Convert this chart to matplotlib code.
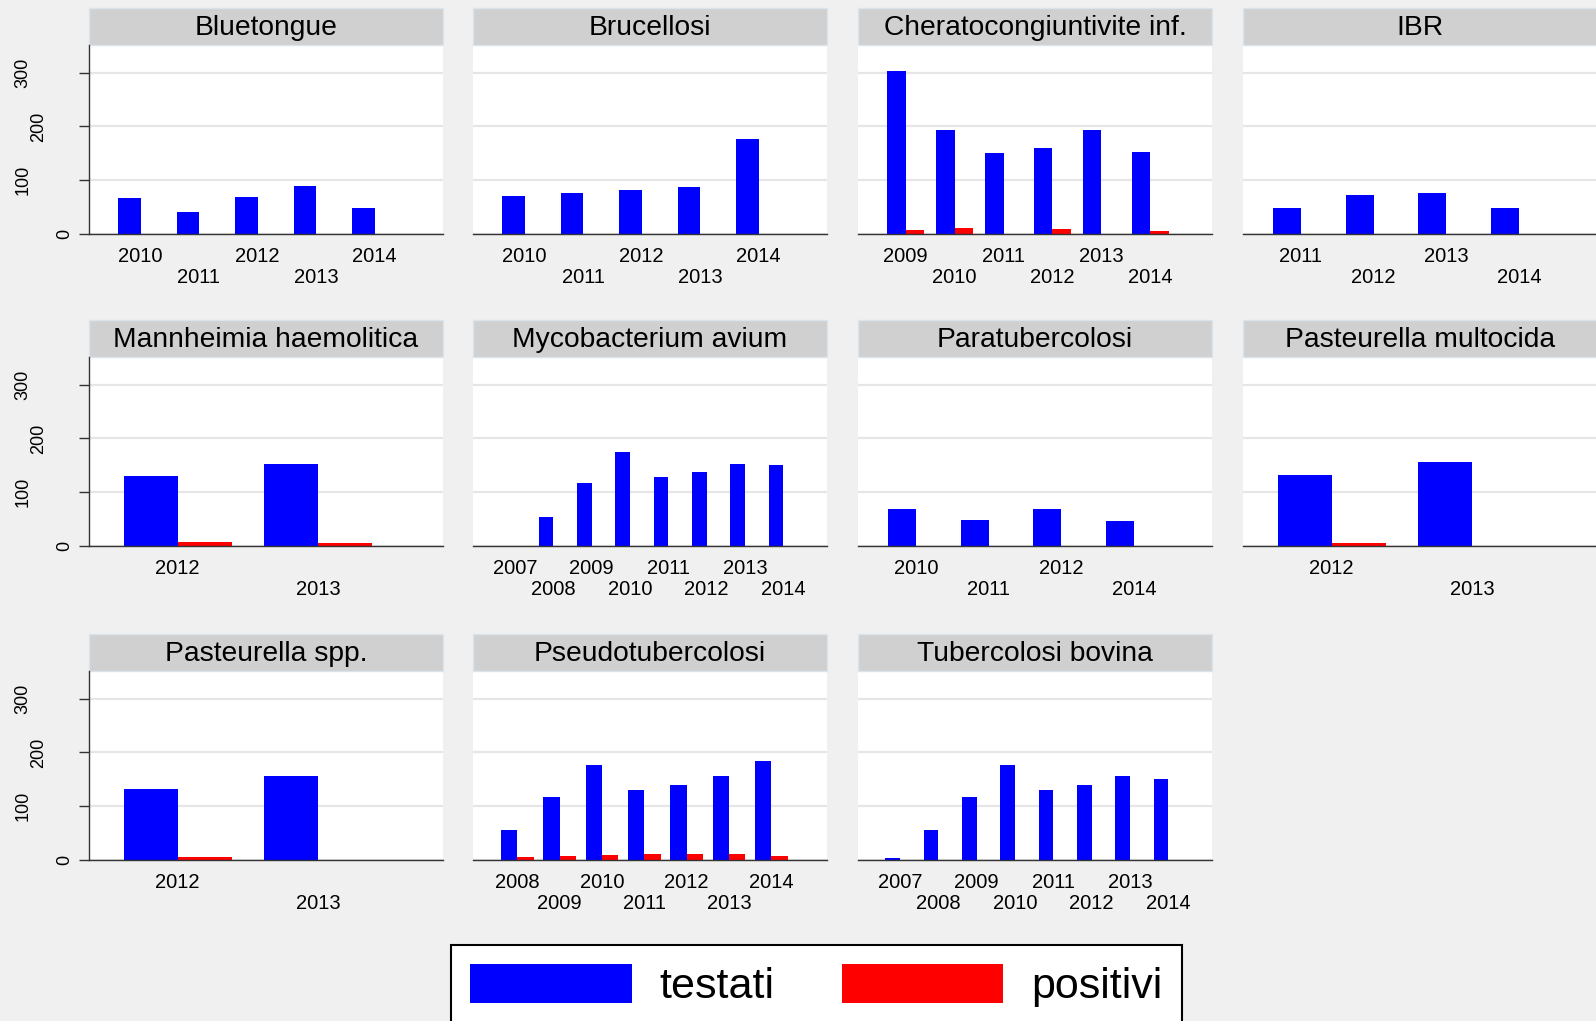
import matplotlib
matplotlib.use("Agg")
import numpy as np
import matplotlib.pyplot as plt
from matplotlib.patches import Rectangle, Patch
from matplotlib.transforms import ScaledTranslation

plt.rcParams['font.family'] = ['Liberation Sans', 'DejaVu Sans']

# Data (number of animals tested / positive per year)
diseases = ["Bluetongue", "Brucellosi", "Cheratocongiuntivite inf.", "IBR",
            "Mannheimia haemolitica", "Mycobacterium avium", "Paratubercolosi",
            "Pasteurella multocida", "Pasteurella spp.", "Pseudotubercolosi",
            "Tubercolosi bovina"]

years = [
    [2010, 2011, 2012, 2013, 2014],
    [2010, 2011, 2012, 2013, 2014],
    [2009, 2010, 2011, 2012, 2013, 2014],
    [2011, 2012, 2013, 2014],
    [2012, 2013],
    [2007, 2008, 2009, 2010, 2011, 2012, 2013, 2014],
    [2010, 2011, 2012, 2014],
    [2012, 2013],
    [2012, 2013],
    [2008, 2009, 2010, 2011, 2012, 2013, 2014],
    [2007, 2008, 2009, 2010, 2011, 2012, 2013, 2014],
]

testati = [
    [67, 41, 69, 88, 47],
    [70, 75, 82, 86, 177],
    [303, 193, 151, 159, 193, 153],
    [47, 72, 76, 47],
    [130, 153],
    [0, 53, 116, 175, 128, 138, 153, 151],
    [69, 47, 69, 45],
    [131, 155],
    [131, 155],
    [56, 117, 176, 129, 139, 155, 184],
    [3, 55, 117, 176, 129, 139, 155, 151],
]

positivi = [
    [0, 0, 0, 0, 0],
    [0, 0, 0, 0, 0],
    [6, 10, 0, 8, 0, 4],
    [0, 0, 0, 0],
    [6, 4],
    [0, 0, 0, 0, 0, 0, 0, 0],
    [0, 0, 0, 0],
    [4, 0],
    [5, 0],
    [4, 6, 9, 10, 10, 10, 6],
    [0, 0, 0, 0, 0, 0, 0, 0],
]

yticks = [0, 100, 200, 300]

# layout (pixels)
W, H = 1596, 1021
col_left = [89, 473, 858, 1243]
row_base = [233.5, 545.5, 859.5]
pw, ph, hh = 354, 188.5, 37
bg = '#f0f0f0'
# outer gaps (px) Stata leaves before the first / after the last bar, by group count
gap_left = {2: 34.6, 3: 32, 4: 30, 5: 29, 6: 28.7, 7: 28, 8: 27.3}
gap_right = {2: 71, 3: 58, 4: 50, 5: 46, 6: 42.7, 7: 39.5, 8: 29}

fig = plt.figure(figsize=(W / 100, H / 100), dpi=100, facecolor=bg)

for k, name in enumerate(diseases):
    r, c = divmod(k, 4)
    ax = fig.add_axes([col_left[c] / W, (H - row_base[r]) / H, pw / W, ph / H])
    ax.set_facecolor('white')

    n = len(years[k])
    centers = np.arange(n) * 2.6
    ax.bar(centers - 1, testati[k], width=1, align='edge', color='#0000ff', zorder=2)
    ax.bar(centers, positivi[k], width=1, align='edge', color='#ff0000', zorder=2)

    wpx = (pw - gap_left[n] - gap_right[n]) / (2.6 * n - 0.6)
    ax.set_xlim(-1 - gap_left[n] / wpx, centers[-1] + 1 + gap_right[n] / wpx)
    ax.set_ylim(0, 352)

    ax.set_yticks(yticks)
    ax.yaxis.grid(True, color='#e6e6e6', lw=1.6)
    ax.set_axisbelow(True)

    for s in ['top', 'right']:
        ax.spines[s].set_visible(False)
    ax.spines['bottom'].set_color('#333333')
    ax.spines['bottom'].set_linewidth(1.0)

    if c == 0:
        ax.spines['left'].set_color('#333333')
        ax.spines['left'].set_linewidth(1.0)
        ax.set_yticklabels([str(v) for v in yticks], rotation=90, va='center')
        ax.tick_params(axis='y', length=7, width=1, color='#333333',
                       labelsize=13, pad=4)
        shifts = [0, -0.42, -0.27, -0.42]
        for lab, dx in zip(ax.get_yticklabels(), shifts):
            lab.set_transform(lab.get_transform() +
                              ScaledTranslation(dx, 0, fig.dpi_scale_trans))
    else:
        ax.spines['left'].set_visible(False)
        ax.tick_params(axis='y', left=False, labelleft=False)

    # alternating year labels
    ax.set_xticks(centers[0::2])
    ax.set_xticklabels([str(y) for y in years[k][0::2]])
    ax.set_xticks(centers[1::2], minor=True)
    ax.set_xticklabels([str(y) for y in years[k][1::2]], minor=True)
    ax.tick_params(axis='x', which='both', length=0, labelsize=14.5)
    ax.tick_params(axis='x', which='major', pad=10)
    ax.tick_params(axis='x', which='minor', pad=25)

    # panel header
    ax.add_patch(Rectangle((0, 1), 1, hh / ph, transform=ax.transAxes,
                           clip_on=False, facecolor='#d0d0d0',
                           edgecolor='#dae4ec', lw=1))
    ax.text(0.5, 1 + hh / ph / 2 - 0.006, name, transform=ax.transAxes,
            ha='center', va='center', fontsize=20.3)

handles = [Patch(facecolor='#0000ff', edgecolor='none', label='testati'),
           Patch(facecolor='#ff0000', edgecolor='none', label='positivi')]
leg = fig.legend(handles=handles, loc='upper left',
                 bbox_to_anchor=(451 / W, 1 - 945 / H), ncol=2, fontsize=31,
                 frameon=True, fancybox=False, edgecolor='black',
                 framealpha=1, handlelength=3.75, handleheight=1.0,
                 handletextpad=0.65, columnspacing=1.55, borderpad=0.45,
                 borderaxespad=0)
leg.get_frame().set_linewidth(1.5)

fig.savefig('out.png', dpi=100, facecolor=bg)
